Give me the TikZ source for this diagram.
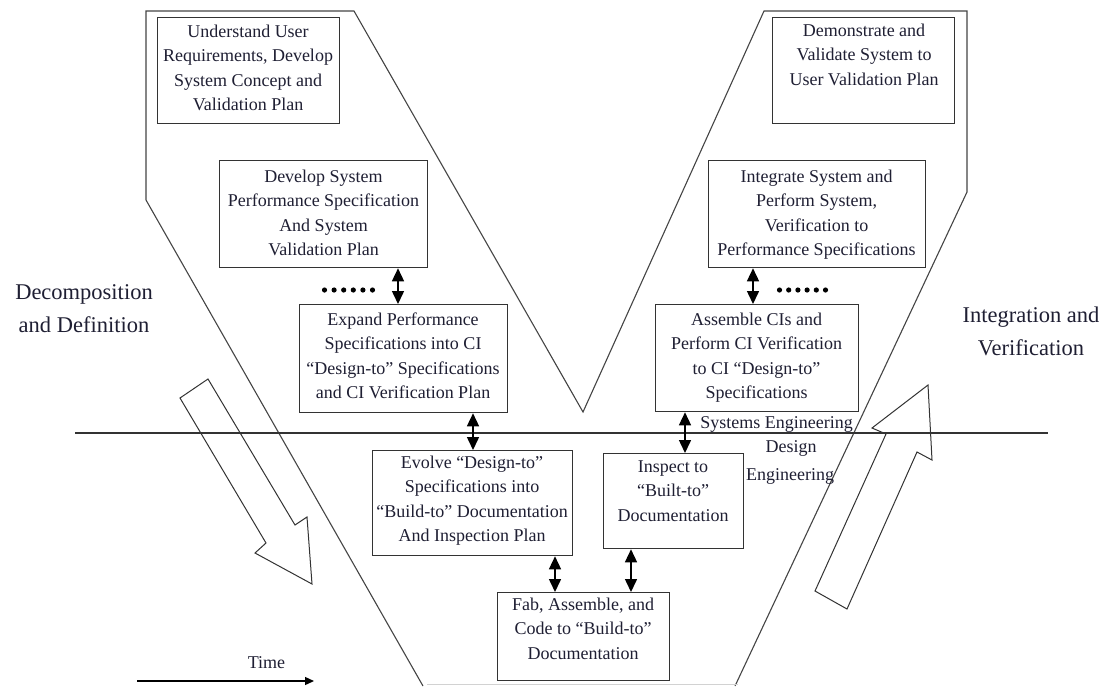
\documentclass[tikz,border=0pt]{standalone}
\usepackage{fontspec}
\setmainfont{Liberation Serif}
\usetikzlibrary{arrows.meta}
\definecolor{ink}{rgb}{0.12,0.12,0.20}
\definecolor{edge}{rgb}{0.20,0.20,0.20}
\definecolor{vline}{rgb}{0.27,0.27,0.27}
\begin{document}
\begin{tikzpicture}[x=1pt,y=-1pt,
  stagebox/.style={draw=edge, line width=1.3pt, rectangle, inner sep=0pt, anchor=north west},
  stagetext/.style={text=ink, align=center, inner sep=0pt, anchor=north,
    font=\fontsize{18}{24.5}\selectfont},
  sidetext/.style={text=ink, align=center, inner sep=0pt, anchor=north,
    font=\fontsize{22.5}{33}\selectfont},
  plaintext/.style={text=ink, inner sep=0pt, anchor=base,
    font=\fontsize{18}{24.5}\selectfont},
  linkarrow/.style={line width=1.5pt, draw=black,
    {Triangle[length=13pt,width=12pt]}-{Triangle[length=13pt,width=12pt]}},
  outline/.style={draw=vline, line width=1.1pt, line join=miter},
  hollowarrow/.style={draw=edge, line width=1pt, line join=miter},
  dotmark/.style={fill=black}
]
% canvas
\useasboundingbox (0,0) rectangle (1107,686);
\fill[white] (0,0) rectangle (1107,686);

% the V outline
\draw[outline] (423,686) -- (146,200) -- (146,11) -- (354,11) -- (583,412)
  -- (764,11) -- (967,11) -- (967,192) -- (735,686);
\draw[draw=gray!35, line width=0.8pt] (427,684) -- (738,684);

% level separator between systems and design engineering
\coordinate (sepL) at (75,433);
\coordinate (sepR) at (1048,433);
\draw[draw=edge, line width=1.3pt] (sepL) -- (sepR);

% hollow direction arrows
\draw[hollowarrow] (180,398) -- (266,543) -- (255,553) -- (312,584)
  -- (307,517) -- (295,525) -- (208,379) -- cycle;
\draw[hollowarrow] (815,591) -- (886,434) -- (872,428) -- (928,385)
  -- (932,460) -- (917,452) -- (847,609) -- cycle;

% stage boxes
\node[stagebox, minimum width=182pt, minimum height=106pt] (b1) at (157,17) {};
\node[stagebox, minimum width=208pt, minimum height=107pt] (b2) at (219,160) {};
\node[stagebox, minimum width=208pt, minimum height=108pt] (b3) at (299,304) {};
\node[stagebox, minimum width=182pt, minimum height=106pt] (b4) at (772,17) {};
\node[stagebox, minimum width=217pt, minimum height=107pt] (b5) at (708,160) {};
\node[stagebox, minimum width=203pt, minimum height=107pt] (b6) at (655,304) {};
\node[stagebox, minimum width=200pt, minimum height=105pt] (b7) at (372,450) {};
\node[stagebox, minimum width=140pt, minimum height=95pt] (b8) at (603,453) {};
\node[stagebox, minimum width=172pt, minimum height=88pt] (b9) at (497,592) {};

% stage texts
\node[stagetext] (t1) at (248,24.5) {Understand User\\Requirements, Develop\\System Concept and\\Validation Plan};
\node[stagetext] (t2) at (323.5,169.5) {Develop System\\Performance Specification\\And System\\Validation Plan};
\node[stagetext] (t3) at (403,312.5) {Expand Performance\\Specifications into CI\\“Design-to” Specifications\\and CI Verification Plan};
\node[stagetext] (t4) at (864,23.5) {Demonstrate and\\Validate System to\\User Validation Plan};
\node[stagetext] (t5) at (816.5,169.5) {Integrate System and\\Perform System,\\Verification to\\Performance Specifications};
\node[stagetext] (t6) at (756.5,312.5) {Assemble CIs and\\Perform CI Verification\\to CI “Design-to”\\Specifications};
\node[stagetext] (t7) at (472,455.5) {Evolve “Design-to”\\Specifications into\\“Build-to” Documentation\\And Inspection Plan};
\node[stagetext] (t8) at (673,460.5) {Inspect to\\“Built-to”\\Documentation};
\node[stagetext] (t9) at (583,597.5) {Fab, Assemble, and\\Code to “Build-to”\\Documentation};

% links between stages
\coordinate (xa) at (398,0);
\coordinate (xb) at (473,0);
\coordinate (xc) at (753,0);
\coordinate (xd) at (685,0);
\coordinate (xe) at (555,0);
\coordinate (xf) at (631,0);
\draw[linkarrow] (b2.south -| xa) -- (b3.north -| xa);
\draw[linkarrow] (b3.south -| xb) -- (b7.north -| xb);
\draw[linkarrow] (b5.south -| xc) -- (b6.north -| xc);
\draw[linkarrow] (b6.south -| xd) -- (b8.north -| xd);
\draw[linkarrow] (b7.south -| xe) -- (b9.north -| xe);
\draw[linkarrow] (b8.south -| xf) -- (b9.north -| xf);

% continuation dots
\foreach \i in {0,...,5} {
  \fill[dotmark] (324.5+9.6*\i,290) circle (2.6pt);
  \fill[dotmark] (779.5+9.2*\i,290) circle (2.6pt);
}

% side labels
\node[sidetext] (dd) at (84,284.5) {Decomposition\\and Definition};
\node[sidetext] (iv) at (1031,306.5) {Integration and\\Verification};

% engineering domain labels
\node[plaintext] (se) at (776.5,428) {Systems Engineering};
\node[plaintext] (de) at (791,452) {Design};
\node[plaintext] (en) at (790,480) {Engineering};

% time axis
\node[plaintext] (time) at (266.5,668) {Time};
\coordinate (t0) at (137,681);
\coordinate (t1e) at (314,681);
\draw[draw=black, line width=1.3pt, -{Triangle[length=9pt,width=8pt]}] (t0) -- (t1e);
\end{tikzpicture}
\end{document}
